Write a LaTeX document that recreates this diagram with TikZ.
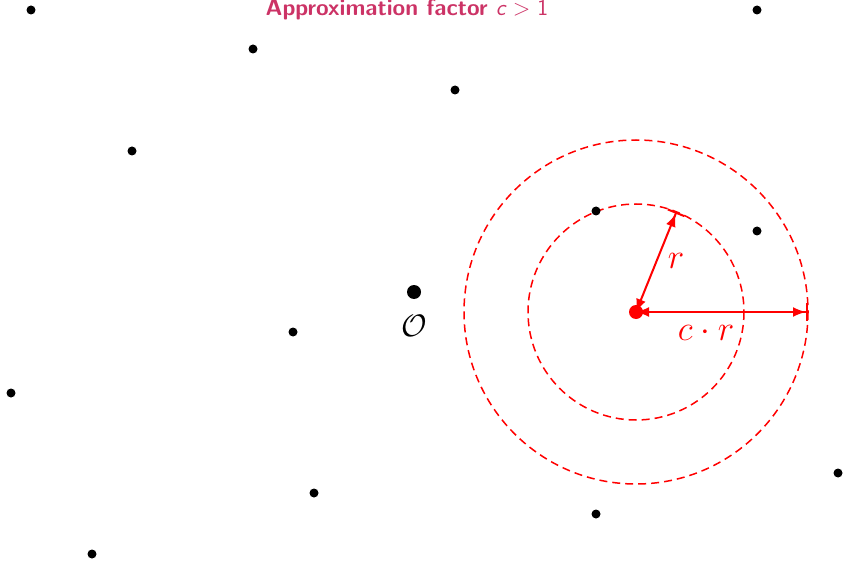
\documentclass[tikz,border=0pt]{standalone}
\usepackage{fix-cm}
\usepackage{fontspec}
\usetikzlibrary{arrows.meta,calc}
\definecolor{titlecol}{RGB}{204,51,102}
\tikzset{
  dot/.style={circle,fill=black,inner sep=0pt,minimum size=9pt},
  bigdot/.style={circle,fill=black,inner sep=0pt,minimum size=14pt},
  reddot/.style={circle,fill=red,inner sep=0pt,minimum size=14pt},
  ring/.style={red,dashed,line width=1.5pt,dash pattern=on 8pt off 5pt},
  measure/.style={red,line width=2pt,arrows={Latex[length=13pt,width=10pt]-Latex[length=13pt,width=10pt]Bar[width=18pt,line width=2pt]}},
  lbl/.style={red,font=\fontsize{35}{40}\selectfont}
}
\begin{document}
\begin{tikzpicture}[x=1pt,y=-1pt]
\useasboundingbox (0,0) rectangle (845,561);
\node[font=\sffamily\fontsize{23}{27}\selectfont,text=titlecol] (title) at (407,10) {\bfseries Approximation factor \mdseries\itshape c \upshape> 1};
\coordinate (ctr) at (636,312);
\draw[ring] (ctr) circle[radius=108];
\draw[ring] (ctr) circle[radius=172];
\coordinate (rtip) at ($(ctr)+(-68:108)$);
\coordinate (crtip) at ($(ctr)+(172,0)$);
\draw[measure] (ctr) -- (rtip);
\draw[measure] (ctr) -- (crtip);
\node[reddot] (q) at (ctr) {};
\node[lbl] (rl) at (676,261) {$r$};
\node[lbl] (crl) at (706,333) {$c\cdot r$};
\node[dot] (p1) at (31,10) {};
\node[dot] (p2) at (253,49) {};
\node[dot] (p3) at (455,90) {};
\node[dot] (p4) at (757,10) {};
\node[dot] (p5) at (132,151) {};
\node[dot] (p6) at (596,211) {};
\node[dot] (p7) at (757,231) {};
\node[dot] (p8) at (293,332) {};
\node[dot] (p9) at (11,393) {};
\node[dot] (p10) at (314,493) {};
\node[dot] (p11) at (596,514) {};
\node[dot] (p12) at (838,473) {};
\node[dot] (p13) at (92,554) {};
\node[bigdot] (o) at (414,292) {};
\node[font=\fontsize{31}{36}\selectfont] (ol) at (414,326) {$\mathcal{O}$};
\end{tikzpicture}
\end{document}
